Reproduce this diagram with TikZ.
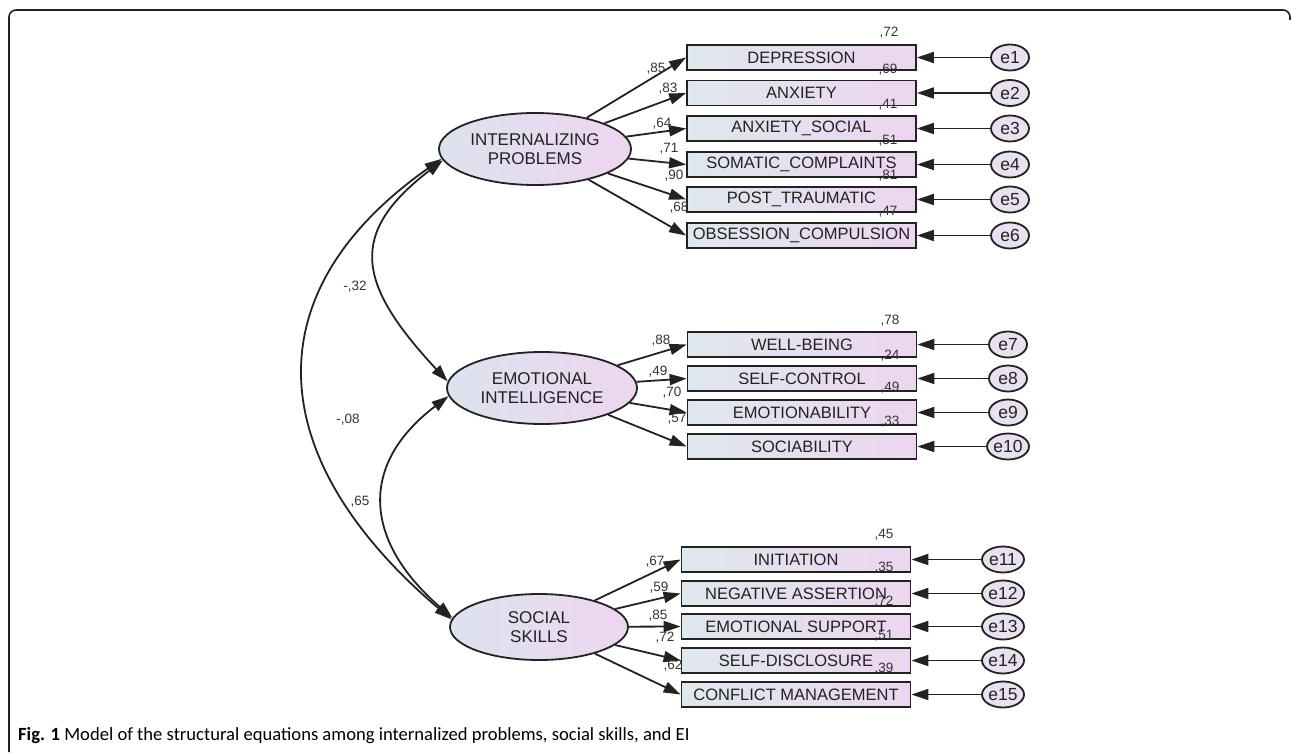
\documentclass[tikz,border=0pt]{standalone}
\usepackage{fontspec}
\setmainfont{Liberation Sans}
\newfontfamily\capfont{Carlito}
\usetikzlibrary{shapes.geometric,arrows.meta}
\definecolor{linec}{HTML}{222222}
\definecolor{textc}{HTML}{222222}
\definecolor{numc}{HTML}{333333}
\definecolor{ellL}{HTML}{DDE3EE}
\definecolor{ellR}{HTML}{EDD5F0}
\definecolor{boxL}{HTML}{DFE8EC}
\definecolor{boxR}{HTML}{EDD5F0}
\definecolor{errc}{HTML}{E9E0F0}
\begin{document}
\begin{tikzpicture}[x=1pt,y=-1pt,
 lat/.style={ellipse,draw=linec,line width=1.8pt,left color=ellL,right color=ellR,minimum width=192pt,minimum height=72pt,inner sep=0pt,align=center,font=\fontsize{17}{18.5}\selectfont,text=textc},
 obs/.style={rectangle,draw=linec,line width=1.8pt,left color=boxL,right color=boxR,minimum width=229pt,minimum height=25pt,inner sep=0pt,font=\fontsize{16.5}{18}\selectfont,text=textc},
 err/.style={ellipse,draw=linec,line width=1.8pt,fill=errc,minimum width=38pt,minimum height=26pt,inner sep=0pt,font=\fontsize{17.5}{18}\selectfont,text=textc},
 errw/.style={err,minimum width=42pt},
 num/.style={font=\fontsize{13.5}{14}\selectfont,text=numc,inner sep=0pt},
 tip/.style={},
 arr/.style={draw=linec,line width=1.8pt,-{Triangle[length=17pt,width=11pt]}},
 cov/.style={draw=linec,line width=1.8pt,{Triangle[length=17pt,width=11pt]}-{Triangle[length=17pt,width=11pt]}},
]
\useasboundingbox (0,0) rectangle (1292,752);
% frame
\draw[linec,line width=1.6pt,rounded corners=7pt] (9,752) -- (9,10) -- (1290,10) -- (1290,20);

% latent variables
\node[lat] (ip) at (535,149) {INTERNALIZING\\PROBLEMS};
\node[lat,minimum width=190pt] (ei) at (542,388) {EMOTIONAL\\INTELLIGENCE};
\node[lat,minimum width=178pt,minimum height=66pt] (ss) at (539,627) {SOCIAL\\SKILLS};

% IP indicators
\node[obs] (d1) at (801.5,57.5) {DEPRESSION};
\node[obs] (d2) at (801.5,93) {ANXIETY};
\node[obs] (d3) at (801.5,128.5) {ANXIETY\_SOCIAL};
\node[obs] (d4) at (801.5,164.5) {SOMATIC\_COMPLAINTS};
\node[obs] (d5) at (801.5,199.5) {POST\_TRAUMATIC};
\node[obs] (d6) at (801.5,235.5) {OBSESSION\_COMPULSION};
% EI indicators
\node[obs] (d7) at (802,344.5) {WELL-BEING};
\node[obs] (d8) at (802,378.5) {SELF-CONTROL};
\node[obs] (d9) at (802,412.5) {EMOTIONABILITY};
\node[obs] (d10) at (802,446.5) {SOCIABILITY};
% SS indicators
\node[obs] (d11) at (796,559.5) {INITIATION};
\node[obs] (d12) at (796,593.5) {NEGATIVE ASSERTION};
\node[obs] (d13) at (796,626.5) {EMOTIONAL SUPPORT};
\node[obs] (d14) at (796,660.5) {SELF-DISCLOSURE};
\node[obs] (d15) at (796,694.5) {CONFLICT MANAGEMENT};

% errors
\node[err] (e1) at (1010,57.5) {e1};
\node[err] (e2) at (1010,93) {e2};
\node[err] (e3) at (1010,128.5) {e3};
\node[err] (e4) at (1010,164.5) {e4};
\node[err] (e5) at (1010,199.5) {e5};
\node[err] (e6) at (1010,235.5) {e6};
\node[err] (e7) at (1008,344.5) {e7};
\node[err] (e8) at (1008,378.5) {e8};
\node[err] (e9) at (1008,412.5) {e9};
\node[errw] (e10) at (1008,446.5) {e10};
\node[errw] (e11) at (1003,559.5) {e11};
\node[errw] (e12) at (1003,593.5) {e12};
\node[errw] (e13) at (1003,626.5) {e13};
\node[errw] (e14) at (1003,660.5) {e14};
\node[errw] (e15) at (1003,694.5) {e15};

% loadings
\foreach \i in {1,...,6} {\draw[arr] (ip) -- (d\i.west);}
\foreach \i in {7,...,10} {\draw[arr] (ei) -- (d\i.west);}
\foreach \i in {11,...,15} {\draw[arr] (ss) -- (d\i.west);}
% error arrows
\foreach \i in {1,...,15} {\draw[arr] (e\i) -- (d\i.east);}

% covariances
\draw[cov] (ip.186) .. controls (251,293) and (263,459) .. (ss.175);
\draw[cov] (ip.187) .. controls (348,233) and (356,283) .. (ei.176);
\draw[cov] (ei.185) .. controls (359,464) and (363,540) .. (ss.174);
\node[num] (c1) at (355,287) {-,32};
\node[num] (c2) at (348,420) {-,08};
\node[num] (c3) at (360,502) {,65};

% loading labels
\node[num] (l1) at (656,69) {,85};
\node[num] (l2) at (668,89) {,83};
\node[num] (l3) at (662,124) {,64};
\node[num] (l4) at (669,149) {,71};
\node[num] (l5) at (674,176) {,90};
\node[num] (l6) at (679,208) {,68};
\node[num] (l7) at (661,341) {,88};
\node[num] (l8) at (658,372) {,49};
\node[num] (l9) at (672,393) {,70};
\node[num] (l10) at (677,419) {,57};
\node[num] (l11) at (655,562) {,67};
\node[num] (l12) at (659,588) {,59};
\node[num] (l13) at (658,616) {,85};
\node[num] (l14) at (665,638) {,72};
\node[num] (l15) at (673,666) {,62};

% R2 labels
\node[num] (r1) at (889,33) {,72};
\node[num] (r2) at (888,70) {,69};
\node[num] (r3) at (888,105) {,41};
\node[num] (r4) at (888,141) {,51};
\node[num] (r5) at (888,176) {,81};
\node[num] (r6) at (888,212) {,47};
\node[num] (r7) at (890,321) {,78};
\node[num] (r8) at (890,356) {,24};
\node[num] (r9) at (890,388) {,49};
\node[num] (r10) at (890,422) {,33};
\node[num] (r11) at (884,535) {,45};
\node[num] (r12) at (884,568) {,35};
\node[num] (r13) at (884,602) {,72};
\node[num] (r14) at (884,636) {,51};
\node[num] (r15) at (884,669) {,39};

% caption
\node[anchor=west,inner sep=0pt,font=\capfont\fontsize{18.6}{20}\selectfont,text=black] (cap) at (18,736) {\textbf{Fig. 1} Model of the structural equations among internalized problems, social skills, and EI};
\end{tikzpicture}
\end{document}
